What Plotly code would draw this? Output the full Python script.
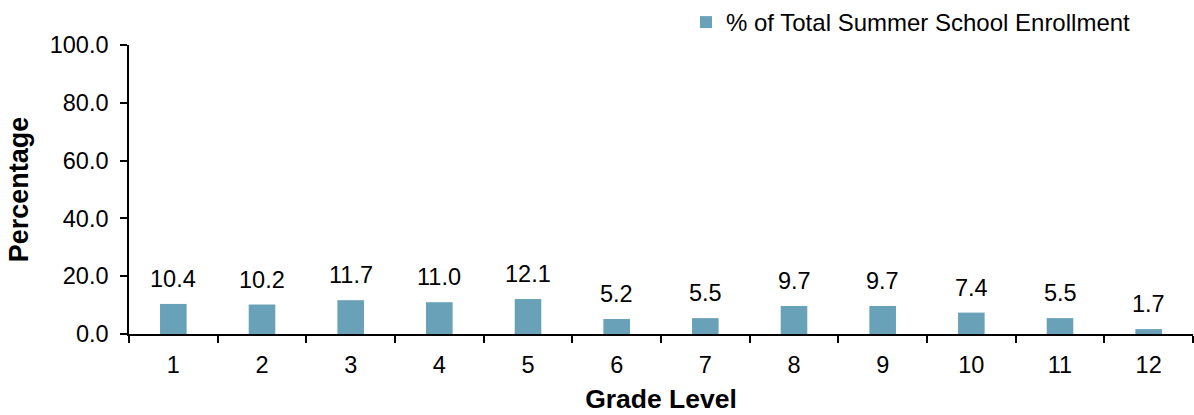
import plotly.graph_objects as go

grades = ["1", "2", "3", "4", "5", "6", "7", "8", "9", "10", "11", "12"]
pct = [10.4, 10.2, 11.7, 11.0, 12.1, 5.2, 5.5, 9.7, 9.7, 7.4, 5.5, 1.7]
series_name = "% of Total Summer School Enrollment"
y_ticks = [0, 20, 40, 60, 80, 100]

BAR = "#69A2B8"
FONT = "Liberation Sans, Arial, sans-serif"

fig = go.Figure()
fig.add_trace(go.Bar(
    x=grades, y=pct, name=series_name,
    marker=dict(color=BAR, line=dict(width=0)),
    width=0.30, showlegend=True,
))

for i, v in enumerate(pct):
    fig.add_annotation(x=i, y=v, xref="x", yref="y", text=f"{v:.1f}", showarrow=False,
                       yanchor="bottom", yshift=10,
                       font=dict(family=FONT, size=23.5, color="#000"))

fig.update_layout(
    width=1194, height=415,
    margin=dict(l=129, r=1, t=45, b=81),
    paper_bgcolor="white", plot_bgcolor="white",
    font=dict(family=FONT, size=23.5, color="#000"),
    showlegend=True,
    legend=dict(orientation="h", x=0.5235, xanchor="left", y=1.0, yanchor="top",
                yref="container",
                font=dict(size=24), bgcolor="rgba(0,0,0,0)",
                itemwidth=30, tracegroupgap=0),
    xaxis=dict(type="category", showline=True, linecolor="#000", linewidth=1.5,
               ticks="outside", tickson="boundaries", ticklen=7, tickcolor="#000",
               tickwidth=1.5, showgrid=False, tickfont=dict(size=23.5), automargin=False,
               ticklabelstandoff=9,
               title=dict(text="<b>Grade Level</b>", font=dict(size=26.5), standoff=12)),
    yaxis=dict(range=[0, 100], tickvals=y_ticks, tickformat=".1f",
               showline=True, linecolor="#000", linewidth=1.5,
               ticks="outside", ticklen=7, tickcolor="#000", tickwidth=1.5,
               showgrid=False, zeroline=False, tickfont=dict(size=23.5), automargin=False,
               ticklabelstandoff=7,
               title=dict(text="<b>Percentage</b>", font=dict(size=27), standoff=13)),
)

fig.write_html("out.html", config={"displayModeBar": False},
               post_script="document.body.style.margin='0';")
